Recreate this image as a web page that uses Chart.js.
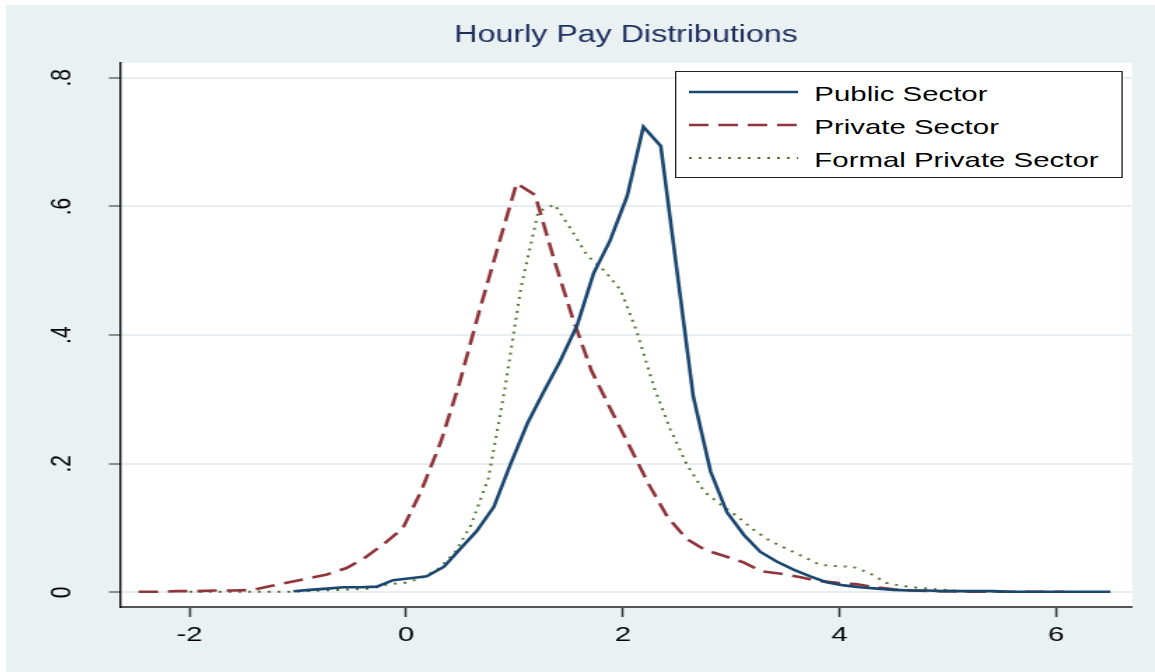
<!DOCTYPE html>
<html>
<head>
<meta charset="utf-8">
<script src="https://cdn.jsdelivr.net/npm/chart.js@4.4.0/dist/chart.umd.min.js"></script>
<style>
  html, body { margin: 0; padding: 0; background: #fff; }
  #frame { position: absolute; left: 6px; top: 5px; width: 1149px; height: 667px; background: #e9f1f3; overflow: hidden; }
  /* the original graph is stretched sideways, so draw narrow and widen */
  #stretch { position: absolute; left: 0; top: 0; width: 821px; height: 667px; transform: scaleX(1.3995); transform-origin: 0 0; }
  #stretch canvas { position: absolute; left: 0; top: 0; }
  #legend { position: absolute; left: 478px; top: 66px; width: 318px; height: 105px; background: #fff; border: 1px solid #222;
            font: 21px "Liberation Sans", Arial, sans-serif; color: #000; }
  .row { position: absolute; left: 0; height: 30px; width: 318px; }
  .row svg { position: absolute; left: 9px; top: 0; }
  .row span { position: absolute; left: 98.6px; top: 4px; line-height: 26px; white-space: nowrap; }
</style>
</head>
<body>
<div id="frame">
  <div id="stretch">
    <canvas id="c" width="821" height="667"></canvas>
    <div id="legend"></div>
  </div>
</div>
<script>
const seriesNames = ["Public Sector", "Private Sector", "Formal Private Sector"];

const publicX = [-1.04, -0.89, -0.73, -0.58, -0.42, -0.27, -0.12, 0.04, 0.19, 0.35,
  0.50, 0.65, 0.81, 0.96, 1.12, 1.27, 1.42, 1.58, 1.73, 1.88,
  2.04, 2.19, 2.35, 2.50, 2.65, 2.81, 2.96, 3.12, 3.27, 3.42,
  3.58, 3.73, 3.88, 4.04, 4.19, 4.35, 4.50, 4.65, 4.81, 4.96,
  5.12, 5.27, 5.42, 5.58, 5.73, 5.88, 6.04, 6.19, 6.35, 6.50];
const publicY = [0.002, 0.004, 0.006, 0.008, 0.008, 0.009, 0.019, 0.022, 0.025, 0.040,
  0.068, 0.095, 0.133, 0.198, 0.263, 0.312, 0.359, 0.416, 0.496, 0.546,
  0.616, 0.724, 0.694, 0.500, 0.305, 0.188, 0.125, 0.089, 0.063, 0.048,
  0.035, 0.025, 0.016, 0.011, 0.008, 0.006, 0.004, 0.003, 0.003, 0.002,
  0.002, 0.002, 0.002, 0.001, 0.001, 0.001, 0.001, 0.001, 0.001, 0.001];

const privateX = [-2.47, -2.30, -2.12, -1.95, -1.77, -1.60, -1.42, -1.25, -1.08, -0.90,
  -0.73, -0.55, -0.38, -0.20, -0.03, 0.14, 0.32, 0.49, 0.67, 0.84,
  1.02, 1.19, 1.37, 1.54, 1.71, 1.89, 2.06, 2.24, 2.41, 2.59,
  2.76, 2.93, 3.11, 3.28, 3.46, 3.63, 3.80, 3.98, 4.15, 4.33,
  4.50, 4.68, 4.85, 5.02, 5.20, 5.37, 5.55, 5.72, 5.89, 6.07];
const privateY = [0.001, 0.001, 0.002, 0.002, 0.003, 0.003, 0.004, 0.010, 0.016, 0.022,
  0.028, 0.038, 0.054, 0.076, 0.100, 0.158, 0.234, 0.324, 0.434, 0.533,
  0.636, 0.618, 0.515, 0.425, 0.345, 0.284, 0.228, 0.168, 0.118, 0.083,
  0.066, 0.057, 0.047, 0.033, 0.029, 0.024, 0.018, 0.015, 0.013, 0.008,
  0.005, 0.003, 0.002, 0.002, 0.001, 0.001, 0.001, 0.001, 0.001, 0.001];

const formalX = [-2.00, -1.85, -1.69, -1.54, -1.39, -1.23, -1.08, -0.93, -0.78, -0.62,
  -0.47, -0.32, -0.16, -0.01, 0.14, 0.30, 0.45, 0.60, 0.76, 0.91,
  1.06, 1.22, 1.37, 1.52, 1.67, 1.83, 1.98, 2.13, 2.29, 2.44,
  2.59, 2.75, 2.90, 3.05, 3.21, 3.36, 3.51, 3.66, 3.82, 3.97,
  4.12, 4.28, 4.43, 4.58, 4.74, 4.89, 5.04, 5.20, 5.35, 5.50];
const formalY = [0.001, 0.001, 0.001, 0.001, 0.001, 0.001, 0.001, 0.002, 0.003, 0.004,
  0.005, 0.006, 0.013, 0.015, 0.022, 0.037, 0.062, 0.105, 0.178, 0.315,
  0.474, 0.592, 0.603, 0.565, 0.524, 0.500, 0.470, 0.405, 0.318, 0.253,
  0.199, 0.157, 0.137, 0.119, 0.097, 0.080, 0.068, 0.056, 0.043, 0.041,
  0.040, 0.030, 0.015, 0.010, 0.007, 0.005, 0.003, 0.001, 0.001, 0.001];

const xTickValues = [-2, 0, 2, 4, 6];
const xTickLabels = ["-2", "0", "2", "4", "6"];
const yTickValues = [0, 0.2, 0.4, 0.6, 0.8];
const yTickLabels = ["0", ".2", ".4", ".6", ".8"];

const FONT = '"Liberation Sans", Arial, sans-serif';
Chart.defaults.font.family = FONT;

const colors = ["#1a476f", "#90353b", "#55752f"];
const dashes = [[], [14, 7], [2, 5]];
const widths = [2.6, 2.6, 2];

function points(xs, ys) {
  return xs.map((x, i) => ({ x: x, y: ys[i] }));
}

const plotBg = {
  id: "plotBg",
  beforeDraw(chart) {
    const { ctx, chartArea: a } = chart;
    ctx.save();
    ctx.fillStyle = "#ffffff";
    ctx.fillRect(a.left, a.top, a.right - a.left, a.bottom - a.top);
    ctx.restore();
  }
};

const chart = new Chart(document.getElementById("c"), {
  type: "line",
  data: {
    datasets: [
      { label: seriesNames[0], data: points(publicX, publicY) },
      { label: seriesNames[1], data: points(privateX, privateY) },
      { label: seriesNames[2], data: points(formalX, formalY) }
    ].map((d, i) => Object.assign(d, {
      borderColor: colors[i],
      borderWidth: widths[i],
      borderDash: dashes[i],
      borderCapStyle: "butt",
      pointRadius: 0,
      tension: 0,
      fill: false
    }))
  },
  options: {
    responsive: false,
    animation: false,
    layout: { padding: { left: 0, right: 16.4, top: 0, bottom: 0 } },
    scales: {
      x: {
        type: "linear",
        min: -2.64,
        max: 6.70,
        afterBuildTicks: s => { s.ticks = xTickValues.map(v => ({ value: v })); },
        afterFit: s => { s.height = 65; },
        ticks: {
          padding: 6,
          color: "#000",
          font: { size: 21 },
          callback: (v) => xTickLabels[xTickValues.indexOf(v)]
        },
        grid: { drawOnChartArea: false, drawTicks: true, tickLength: 10, tickColor: "#333", tickWidth: 1.5 },
        border: { color: "#555", width: 2 }
      },
      y: {
        min: -0.0226,
        max: 0.823,
        afterBuildTicks: s => { s.ticks = yTickValues.map(v => ({ value: v })); },
        afterFit: s => { s.width = 81.5; },
        ticks: {
          minRotation: 90,
          maxRotation: 90,
          crossAlign: "center",
          padding: 24.7,
          color: "#000",
          font: { size: 21 },
          callback: (v) => yTickLabels[yTickValues.findIndex(t => Math.abs(t - v) < 1e-9)]
        },
        grid: { color: "#e6eef1", lineWidth: 2, tickLength: 8, tickColor: "#555", tickWidth: 1.3 },
        border: { color: "#000", width: 1.4 }
      }
    },
    plugins: {
      legend: { display: false },
      tooltip: { enabled: false },
      title: {
        display: true,
        text: "Hourly Pay Distributions",
        color: "#1e2d5c",
        fullSize: false,
        font: { size: 23, weight: "normal" },
        padding: { top: 17, bottom: 13.4 }
      }
    }
  },
  plugins: [plotBg]
});

// legend box, built from the datasets
const legend = document.getElementById("legend");
const rowCenters = [87, 120, 153];
chart.data.datasets.forEach((d, i) => {
  const row = document.createElement("div");
  row.className = "row";
  row.style.top = (rowCenters[i] - 67 - 15) + "px";
  const dash = d.borderDash.length ? d.borderDash.join(",") : "none";
  row.innerHTML =
    '<svg width="80" height="30"><line x1="0" y1="15" x2="78" y2="15" stroke="' + d.borderColor +
    '" stroke-width="' + (i === 2 ? 2 : 2.4) + '" stroke-dasharray="' + dash + '"/></svg>' +
    '<span>' + d.label + '</span>';
  legend.appendChild(row);
});
</script>
</body>
</html>
